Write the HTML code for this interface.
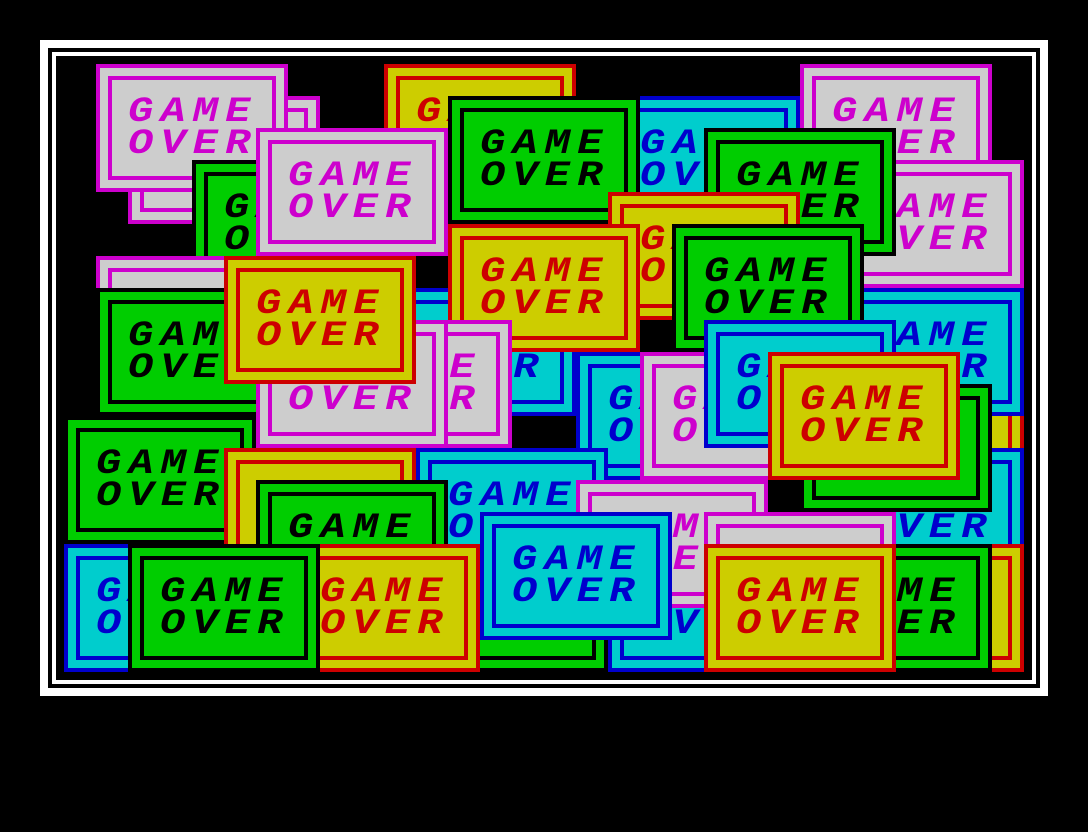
<!DOCTYPE html>
<html><head><meta charset="utf-8"><style>
html,body{margin:0;padding:0;background:#000;width:1088px;height:832px;overflow:hidden}
#f{position:absolute;left:40px;top:40px;width:1008px;height:656px;background:#fff}
#b1{position:absolute;left:48px;top:48px;width:992px;height:640px;background:#000}
#b2{position:absolute;left:52px;top:52px;width:984px;height:632px;background:#fff}
#b3{position:absolute;left:56px;top:56px;width:976px;height:624px;background:#000;overflow:hidden}
.c{position:absolute;width:192px;height:128px;box-sizing:border-box;border:4px solid}
.c i{position:absolute;left:8px;top:8px;width:168px;height:104px;box-sizing:border-box;border:4px solid}
.c b{position:absolute;left:28px;font:italic bold 35px/35px "Liberation Mono",monospace;letter-spacing:6px;transform-origin:0 0;transform:scaleX(1.2);white-space:pre}
.c b.g{top:27px}.c b.o{top:59px}
.P{background:#cdcdcd;border-color:#cd00cd;color:#cd00cd}.P i{border-color:#cd00cd}
.Y{background:#cdcd00;border-color:#cd0000;color:#cd0000}.Y i{border-color:#cd0000}
.G{background:#00cd00;border-color:#000;color:#000}.G i{border-color:#000}
.C{background:#00cdcd;border-color:#0000cd;color:#0000cd}.C i{border-color:#0000cd}
</style></head><body>
<div id="f"></div><div id="b1"></div><div id="b2"></div>
<div id="b3">
<div class="c P" style="left:72px;top:40px"><i></i><b class="g">GAME</b><b class="o">OVER</b></div>
<div class="c P" style="left:40px;top:8px"><i></i><b class="g">GAME</b><b class="o">OVER</b></div>
<div class="c Y" style="left:328px;top:8px"><i></i><b class="g">GAME</b><b class="o">OVER</b></div>
<div class="c C" style="left:552px;top:40px"><i></i><b class="g">GAME</b><b class="o">OVER</b></div>
<div class="c P" style="left:744px;top:8px"><i></i><b class="g">GAME</b><b class="o">OVER</b></div>
<div class="c P" style="left:776px;top:104px"><i></i><b class="g">GAME</b><b class="o">OVER</b></div>
<div class="c G" style="left:136px;top:104px"><i></i><b class="g">GAME</b><b class="o">OVER</b></div>
<div class="c P" style="left:200px;top:72px"><i></i><b class="g">GAME</b><b class="o">OVER</b></div>
<div class="c G" style="left:392px;top:40px"><i></i><b class="g">GAME</b><b class="o">OVER</b></div>
<div class="c G" style="left:648px;top:72px"><i></i><b class="g">GAME</b><b class="o">OVER</b></div>
<div class="c Y" style="left:552px;top:136px"><i></i><b class="g">GAME</b><b class="o">OVER</b></div>
<div class="c Y" style="left:776px;top:328px"><i></i><b class="g">GAME</b><b class="o">OVER</b></div>
<div class="c C" style="left:776px;top:232px"><i></i><b class="g">GAME</b><b class="o">OVER</b></div>
<div class="c C" style="left:328px;top:232px"><i></i><b class="g">GAME</b><b class="o">OVER</b></div>
<div class="c G" style="left:616px;top:168px"><i></i><b class="g">GAME</b><b class="o">OVER</b></div>
<div class="c Y" style="left:392px;top:168px"><i></i><b class="g">GAME</b><b class="o">OVER</b></div>
<div class="c P" style="left:40px;top:200px"><i></i><b class="g">GAME</b><b class="o">OVER</b></div>
<div class="c G" style="left:40px;top:232px"><i></i><b class="g">GAME</b><b class="o">OVER</b></div>
<div class="c P" style="left:264px;top:264px"><i></i><b class="g">GAME</b><b class="o">OVER</b></div>
<div class="c P" style="left:200px;top:264px"><i></i><b class="g">GAME</b><b class="o">OVER</b></div>
<div class="c Y" style="left:168px;top:200px"><i></i><b class="g">GAME</b><b class="o">OVER</b></div>
<div class="c C" style="left:520px;top:296px"><i></i><b class="g">GAME</b><b class="o">OVER</b></div>
<div class="c C" style="left:776px;top:392px"><i></i><b class="g">GAME</b><b class="o">OVER</b></div>
<div class="c G" style="left:744px;top:328px"><i></i><b class="g">GAME</b><b class="o">OVER</b></div>
<div class="c P" style="left:584px;top:296px"><i></i><b class="g">GAME</b><b class="o">OVER</b></div>
<div class="c C" style="left:648px;top:264px"><i></i><b class="g">GAME</b><b class="o">OVER</b></div>
<div class="c Y" style="left:712px;top:296px"><i></i><b class="g">GAME</b><b class="o">OVER</b></div>
<div class="c G" style="left:8px;top:360px"><i></i><b class="g">GAME</b><b class="o">OVER</b></div>
<div class="c Y" style="left:168px;top:392px"><i></i><b class="g">GAME</b><b class="o">OVER</b></div>
<div class="c C" style="left:360px;top:392px"><i></i><b class="g">GAME</b><b class="o">OVER</b></div>
<div class="c G" style="left:200px;top:424px"><i></i><b class="g">GAME</b><b class="o">OVER</b></div>
<div class="c C" style="left:8px;top:488px"><i></i><b class="g">GAME</b><b class="o">OVER</b></div>
<div class="c G" style="left:360px;top:488px"><i></i><b class="g">GAME</b><b class="o">OVER</b></div>
<div class="c C" style="left:552px;top:488px"><i></i><b class="g">GAME</b><b class="o">OVER</b></div>
<div class="c Y" style="left:776px;top:488px"><i></i><b class="g">GAME</b><b class="o">OVER</b></div>
<div class="c G" style="left:744px;top:488px"><i></i><b class="g">GAME</b><b class="o">OVER</b></div>
<div class="c P" style="left:520px;top:424px"><i></i><b class="g">GAME</b><b class="o">OVER</b></div>
<div class="c P" style="left:648px;top:456px"><i></i><b class="g">GAME</b><b class="o">OVER</b></div>
<div class="c Y" style="left:648px;top:488px"><i></i><b class="g">GAME</b><b class="o">OVER</b></div>
<div class="c Y" style="left:232px;top:488px"><i></i><b class="g">GAME</b><b class="o">OVER</b></div>
<div class="c G" style="left:72px;top:488px"><i></i><b class="g">GAME</b><b class="o">OVER</b></div>
<div class="c C" style="left:424px;top:456px"><i></i><b class="g">GAME</b><b class="o">OVER</b></div>
</div>
</body></html>
